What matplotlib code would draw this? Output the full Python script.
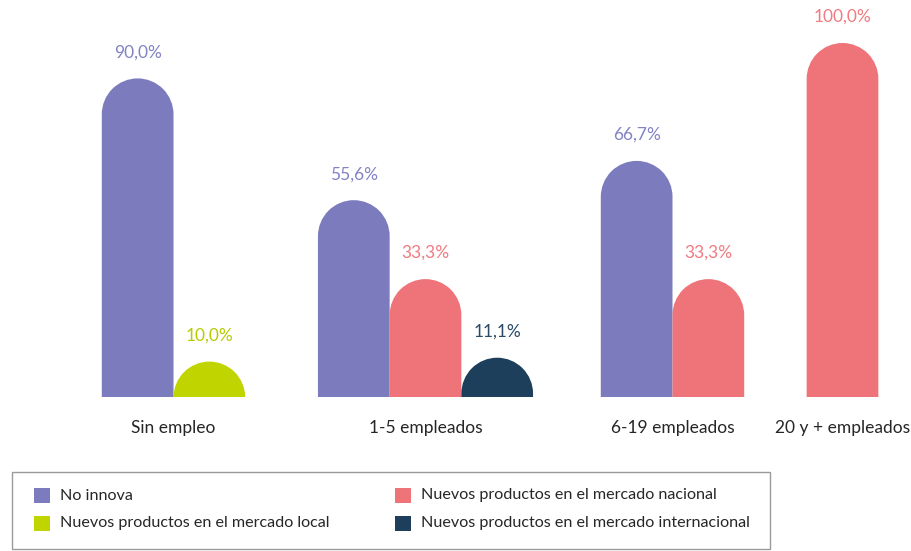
import matplotlib
matplotlib.use("Agg")
import numpy as np
import matplotlib.pyplot as plt
from matplotlib.patches import Rectangle, PathPatch
from matplotlib.path import Path

plt.rcParams['font.family'] = ['Lato', 'DejaVu Sans']

categories = ['Sin empleo', '1-5 empleados', '6-19 empleados', '20 y + empleados']
series_names = ['No innova', 'Nuevos productos en el mercado local',
                'Nuevos productos en el mercado nacional', 'Nuevos productos en el mercado internacional']
no_innova = [90.0, 55.6, 66.7, None]
mercado_local = [10.0, None, None, None]
mercado_nacional = [None, 33.3, 33.3, 100.0]
mercado_internacional = [None, 11.1, None, None]
all_series = [no_innova, mercado_local, mercado_nacional, mercado_internacional]
colors = ['#7b7bbd', '#c0d400', '#ee7479', '#1e3f5b']
label_colors = ['#8383c4', '#b6cc00', '#f07b80', '#2a4a66']

W, H = 911, 551
BASE_PX, TOP_PX = 397, 43          # pixel rows for 0% and 100%
group_centers = [173.5, 425.5, 672.5, 842.5]
bar_w = 71.7

fig = plt.figure(figsize=(W / 100, H / 100), dpi=100)
ax = fig.add_axes([0, (H - BASE_PX) / H, 1, (BASE_PX - TOP_PX) / H])
ax.set_xlim(0, W)
ax.set_ylim(0, 100)
ax.axis('off')

px_per_unit = (BASE_PX - TOP_PX) / 100.0
r_x = bar_w / 2
r_y = r_x / px_per_unit


def rounded_bar(x0, val, color):
    """Bar with a half-round top, built in data coordinates."""
    shoulder = val - r_y
    arc = Path.arc(0, 180)
    arc_verts = arc.vertices * [r_x, r_y] + [x0 + r_x, shoulder]
    verts = [(x0 + bar_w, 0), (x0 + bar_w, shoulder)] + list(arc_verts[1:]) + [(x0, 0), (x0 + bar_w, 0)]
    codes = [Path.MOVETO, Path.LINETO] + list(arc.codes[1:]) + [Path.LINETO, Path.CLOSEPOLY]
    return PathPatch(Path(verts, codes), facecolor=color, lw=0)


for g, center in enumerate(group_centers):
    present = [(s, series[g]) for s, series in enumerate(all_series) if series[g] is not None]
    n = len(present)
    for k, (s, val) in enumerate(present):
        x0 = center - n * bar_w / 2 + k * bar_w
        ax.add_patch(rounded_bar(x0, val, colors[s]))
        ax.text(x0 + r_x, val + 26 / px_per_unit, f'{val:.1f}%'.replace('.', ','),
                ha='center', va='center', fontsize=12.5, color=label_colors[s],
                clip_on=False)
    ax.text(center, -31 / px_per_unit, categories[g], ha='center', va='center',
            fontsize=12.5, color='#262626', clip_on=False)

# legend box drawn in figure pixels
def fx(px):
    return px / W

def fy(py):
    return 1 - py / H

fig.patches.append(Rectangle((fx(12), fy(549)), fx(770) - fx(12), fy(472) - fy(549),
                             transform=fig.transFigure, facecolor='white',
                             edgecolor='#9a9a9a', lw=1.0))
legend_slots = [(34, 495.5), (34, 523.5), (395, 495.5), (395, 523.5)]
for (lx, ly), name, c in zip(legend_slots, series_names, colors):
    fig.patches.append(Rectangle((fx(lx), fy(ly + 7.5)), fx(16), 15 / H,
                                 transform=fig.transFigure, facecolor=c, lw=0))
    fig.text(fx(lx + 26), fy(ly), name, ha='left', va='center', fontsize=11.6,
             color='#262626')

fig.savefig('out.png', dpi=100, facecolor='white')
